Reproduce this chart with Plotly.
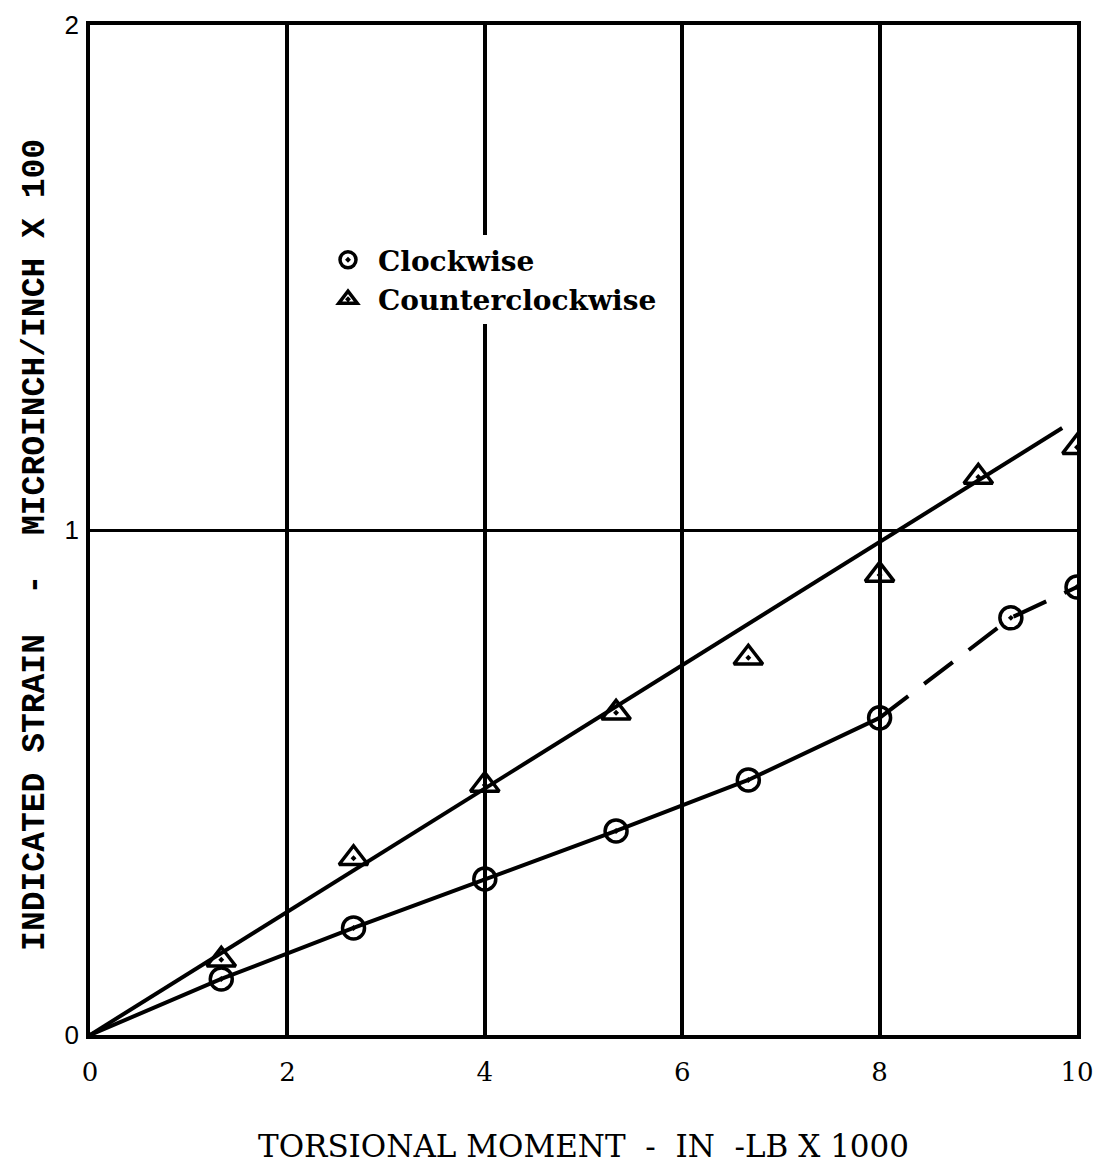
import plotly.graph_objects as go

# Torsional moment (in-lb x 1000) and indicated strain (microinch/inch x 100)
moment_cw = [1.33, 2.67, 4.0, 5.33, 6.67, 8.0, 9.33, 10.0]
strain_cw = [0.111, 0.212, 0.309, 0.404, 0.505, 0.628, 0.826, 0.887]

moment_ccw = [1.33, 2.67, 4.0, 5.33, 6.67, 8.0, 9.0, 10.0]
strain_ccw = [0.149, 0.350, 0.495, 0.638, 0.747, 0.911, 1.105, 1.164]

# Straight-line fit through the counterclockwise readings
fit_x = [0.0, 9.85]
fit_y = [0.0, 1.202]

x_ticks = [0, 2, 4, 6, 8, 10]
y_ticks = [0, 1, 2]

SERIF = "DejaVu Serif"
INK = "black"

fig = go.Figure()

# counterclockwise fit line
fig.add_trace(go.Scatter(x=fit_x, y=fit_y, mode="lines",
                         line=dict(color=INK, width=4), showlegend=False,
                         hoverinfo="skip"))

# clockwise: solid up to 8, dashed beyond
n_solid = moment_cw.index(8.0) + 1
fig.add_trace(go.Scatter(x=[0.0] + moment_cw[:n_solid], y=[0.0] + strain_cw[:n_solid],
                         mode="lines", line=dict(color=INK, width=4),
                         showlegend=False, hoverinfo="skip"))
fig.add_trace(go.Scatter(x=moment_cw[n_solid - 1:], y=strain_cw[n_solid - 1:],
                         mode="lines", line=dict(color=INK, width=4, dash="36px,20px"),
                         showlegend=False, hoverinfo="skip"))

fig.add_trace(go.Scatter(x=moment_cw, y=strain_cw, mode="markers", name="Clockwise",
                         marker=dict(symbol="circle-open-dot", size=22, color=INK,
                                     line=dict(width=3.5, color=INK))))
fig.add_trace(go.Scatter(x=moment_ccw, y=strain_ccw, mode="markers", name="Counterclockwise",
                         marker=dict(symbol="triangle-up-open-dot", size=25, color=INK,
                                     line=dict(width=3.5, color=INK))))

fig.update_layout(
    width=1095, height=1166,
    margin=dict(l=90, r=18, t=25, b=131, autoexpand=False),
    paper_bgcolor="white", plot_bgcolor="white",
    font=dict(family=SERIF, color=INK, size=24),
    legend=dict(x=0.231, y=0.792, xanchor="left", yanchor="top",
                bgcolor="white", borderwidth=0, itemwidth=50,
                font=dict(family=SERIF, size=28, color=INK, weight="bold"),
                itemsizing="trace", tracegroupgap=0),
    showlegend=True,
    annotations=[dict(text="INDICATED STRAIN  -  MICROINCH/INCH X 100",
                      xref="paper", yref="paper", x=-0.056, y=0.485,
                      xanchor="center", yanchor="middle", textangle=-90,
                      showarrow=False,
                      font=dict(size=33, family="Liberation Mono", weight="bold", color=INK))],
)

fig.update_xaxes(range=[0, 10], tickvals=x_ticks, ticks="", ticklabelstandoff=11,
                 automargin=False,
                 showgrid=True, gridcolor=INK, gridwidth=3.5,
                 showline=True, linecolor=INK, linewidth=3.5, mirror=True,
                 zeroline=False, tickfont=dict(size=26, family=SERIF),
                 title=dict(text="TORSIONAL MOMENT  -  IN  -LB X 1000",
                            font=dict(size=31, family=SERIF), standoff=50))
fig.update_yaxes(range=[0, 2], tickvals=y_ticks, ticks="", ticklabelstandoff=2,
                 automargin=False,
                 showgrid=True, gridcolor=INK, gridwidth=2.5,
                 showline=True, linecolor=INK, linewidth=3.5, mirror=True,
                 zeroline=False, tickfont=dict(size=26, family="Liberation Sans"))

fig.write_html("out.html")
